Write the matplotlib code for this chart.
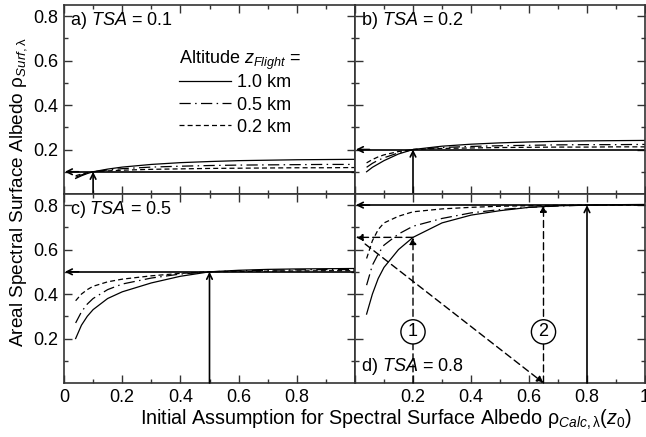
import matplotlib
matplotlib.use("Agg")
import matplotlib.pyplot as plt
import numpy as np

plt.rcParams['font.family'] = ['Liberation Sans', 'DejaVu Sans']
plt.rcParams['mathtext.fontset'] = 'custom'
plt.rcParams['mathtext.rm'] = 'Liberation Sans'
plt.rcParams['mathtext.it'] = 'Liberation Sans:italic'
plt.rcParams['mathtext.sf'] = 'Liberation Sans'
plt.rcParams['font.size'] = 13

# ---------------- data ----------------
x_assumed = [0.04, 0.06, 0.08, 0.1, 0.15, 0.2, 0.3, 0.4, 0.5, 0.6, 0.7, 0.8, 0.9, 1.0]

tsa_values = [0.1, 0.2, 0.5, 0.8]
panel_letters = ['a', 'b', 'c', 'd']
altitudes = ['1.0 km', '0.5 km', '0.2 km']

a_10 = [0.070, 0.082, 0.092, 0.100, 0.112, 0.121, 0.133, 0.141, 0.146, 0.150, 0.152, 0.154, 0.155, 0.156]
a_05 = [0.075, 0.086, 0.094, 0.100, 0.108, 0.114, 0.121, 0.125, 0.128, 0.130, 0.131, 0.132, 0.133, 0.133]
a_02 = [0.082, 0.090, 0.096, 0.100, 0.104, 0.107, 0.111, 0.113, 0.115, 0.116, 0.117, 0.118, 0.118, 0.119]

b_10 = [0.100, 0.120, 0.135, 0.150, 0.180, 0.200, 0.215, 0.224, 0.230, 0.234, 0.237, 0.239, 0.240, 0.241]
b_05 = [0.120, 0.138, 0.152, 0.163, 0.185, 0.200, 0.209, 0.214, 0.217, 0.219, 0.221, 0.222, 0.222, 0.223]
b_02 = [0.140, 0.155, 0.167, 0.176, 0.191, 0.200, 0.205, 0.207, 0.209, 0.210, 0.211, 0.211, 0.212, 0.212]

c_10 = [0.200, 0.260, 0.300, 0.330, 0.380, 0.410, 0.450, 0.480, 0.500, 0.507, 0.511, 0.513, 0.514, 0.515]
c_05 = [0.270, 0.320, 0.355, 0.380, 0.420, 0.445, 0.472, 0.490, 0.500, 0.505, 0.507, 0.509, 0.510, 0.510]
c_02 = [0.370, 0.400, 0.420, 0.435, 0.455, 0.467, 0.482, 0.493, 0.500, 0.502, 0.503, 0.504, 0.505, 0.505]

d_10 = [0.310, 0.400, 0.470, 0.520, 0.600, 0.655, 0.720, 0.755, 0.775, 0.790, 0.797, 0.800, 0.802, 0.803]
d_05 = [0.440, 0.530, 0.580, 0.620, 0.670, 0.705, 0.740, 0.765, 0.780, 0.790, 0.796, 0.800, 0.801, 0.802]
d_02 = [0.560, 0.640, 0.690, 0.720, 0.750, 0.770, 0.783, 0.790, 0.795, 0.797, 0.799, 0.800, 0.800, 0.801]

panels = [[a_10, a_05, a_02], [b_10, b_05, b_02], [c_10, c_05, c_02], [d_10, d_05, d_02]]

# iteration example in panel d
iter_x1 = 0.2
iter_y1 = 0.655
iter_x2 = 0.65
circle_y = 0.23

x_ticks_left = [0, 0.2, 0.4, 0.6, 0.8]
x_ticks_right = [0.2, 0.4, 0.6, 0.8, 1.0]
x_ticklabels_right = ['0.2', '0.4', '0.6', '0.8', '1']
y_ticks = [0.2, 0.4, 0.6, 0.8]

# ---------------- figure ----------------
W, H = 646, 437
fig = plt.figure(figsize=(W / 100, H / 100), dpi=100)
left, right, top, bottom = 64 / W, 645 / W, 1 - 5 / H, 1 - 383 / H
mid_x = 355 / W
mid_y = 1 - 194 / H
axes = [
    fig.add_axes([left, mid_y, mid_x - left, top - mid_y]),
    fig.add_axes([mid_x, mid_y, right - mid_x, top - mid_y]),
    fig.add_axes([left, bottom, mid_x - left, mid_y - bottom]),
    fig.add_axes([mid_x, bottom, right - mid_x, mid_y - bottom]),
]

styles = [dict(ls='-', lw=0.9),
          dict(ls=(0, (9, 3.5, 1.2, 3.5)), lw=0.9),
          dict(ls=(0, (4, 2.5)), lw=0.9)]
spine_col = '#333333'

for i, ax in enumerate(axes):
    tsa = tsa_values[i]
    ax.set_xlim(0, 1)
    ax.set_ylim(0, 0.85)
    for s in ax.spines.values():
        s.set_color(spine_col)
        s.set_linewidth(1.2)
    ax.set_xticks([0, 0.2, 0.4, 0.6, 0.8, 1.0])
    ax.set_xticks(np.arange(0.1, 1.0, 0.2), minor=True)
    ax.set_yticks([0.2, 0.4, 0.6, 0.8])
    ax.set_yticks([0.1, 0.3, 0.5, 0.7], minor=True)
    ax.tick_params(which='both', direction='in', top=True, right=True, color=spine_col, width=1.0)
    ax.tick_params(which='major', length=6)
    ax.tick_params(which='minor', length=3)
    ax.tick_params(labelsize=13, pad=4)

    if i in (0, 1):
        ax.tick_params(labelbottom=False)
    if i in (1, 3):
        ax.tick_params(labelleft=False)
    if i == 2:
        ax.set_xticks(x_ticks_left + [1.0])
        ax.set_xticklabels(['0', '0.2', '0.4', '0.6', '0.8', ''])
    if i == 3:
        ax.set_xticks([0] + x_ticks_right)
        ax.set_xticklabels([''] + x_ticklabels_right)
    if i in (0, 2):
        ax.set_yticks(y_ticks)
        ax.set_yticklabels(['0.2', '0.4', '0.6', '0.8'])

    # curves
    for series, st, lab in zip(panels[i], styles, altitudes):
        ax.plot(x_assumed, series, color='black', label=lab, **st)

    # horizontal solid line at TSA with arrow toward y-axis
    ax.plot([0.02, 1.0], [tsa, tsa], color='black', lw=1.2)
    ax.annotate('', xy=(0.003, tsa), xytext=(0.05, tsa),
                arrowprops=dict(arrowstyle='->', color='black', lw=1.2,
                                shrinkA=0, shrinkB=0, mutation_scale=10))
    # vertical solid arrow at x = TSA
    ax.annotate('', xy=(tsa, tsa), xytext=(tsa, 0.0),
                arrowprops=dict(arrowstyle='->', color='black', lw=1.2,
                                shrinkA=0, shrinkB=0, mutation_scale=10))

    if i == 3:
        ax.text(0.02, 0.03, r'd) $\mathit{TSA}$ = %.1f' % tsa, transform=ax.transAxes,
                ha='left', va='bottom', fontsize=13)
    else:
        ax.text(0.02, 0.975, r'%s) $\mathit{TSA}$ = %.1f' % (panel_letters[i], tsa),
                transform=ax.transAxes, ha='left', va='top', fontsize=13)

# iteration arrows in panel d
axd = axes[3]
dash_arrow = dict(arrowstyle='-|>', color='black', lw=1.0, ls=(0, (5, 3)),
                  shrinkA=0, shrinkB=0, mutation_scale=10)
axd.annotate('', xy=(iter_x1, iter_y1), xytext=(iter_x1, 0.0), arrowprops=dash_arrow)
axd.annotate('', xy=(0.003, iter_y1), xytext=(iter_x1, iter_y1), arrowprops=dash_arrow)
axd.annotate('', xy=(iter_x2, 0.0), xytext=(0.035, 0.625), arrowprops=dash_arrow)
axd.annotate('', xy=(iter_x2, 0.8), xytext=(iter_x2, 0.0), arrowprops=dash_arrow)
for xc, lab in [(iter_x1, '1'), (iter_x2, '2')]:
    axd.text(xc, circle_y, lab, ha='center', va='center', fontsize=13, zorder=5,
             bbox=dict(boxstyle='circle,pad=0.2', fc='white', ec='black', lw=1.0))

# legend in panel a
leg = axes[0].legend(loc='upper left', bbox_to_anchor=(0.395, 0.77), frameon=False,
                     title=r'Altitude $\mathit{z}_{\mathit{Flight}}$ =', alignment='left',
                     handlelength=2.9, handletextpad=0.3, labelspacing=0.28,
                     borderpad=0, borderaxespad=0, fontsize=13, title_fontsize=13)
leg._legend_box.sep = 2

fig.text(19 / W, 1 - 192 / H, r'Areal Spectral Surface Albedo ρ$_{\mathit{Surf},\mathrm{λ}}$',
         rotation=90, ha='center', va='center', fontsize=13.7)
fig.text(386 / W, 1 - 420 / H, r'Initial Assumption for Spectral Surface Albedo ρ$_{\mathit{Calc},\mathrm{λ}}(z_0)$',
         ha='center', va='center', fontsize=14.2)

fig.savefig('out.png', dpi=100)
